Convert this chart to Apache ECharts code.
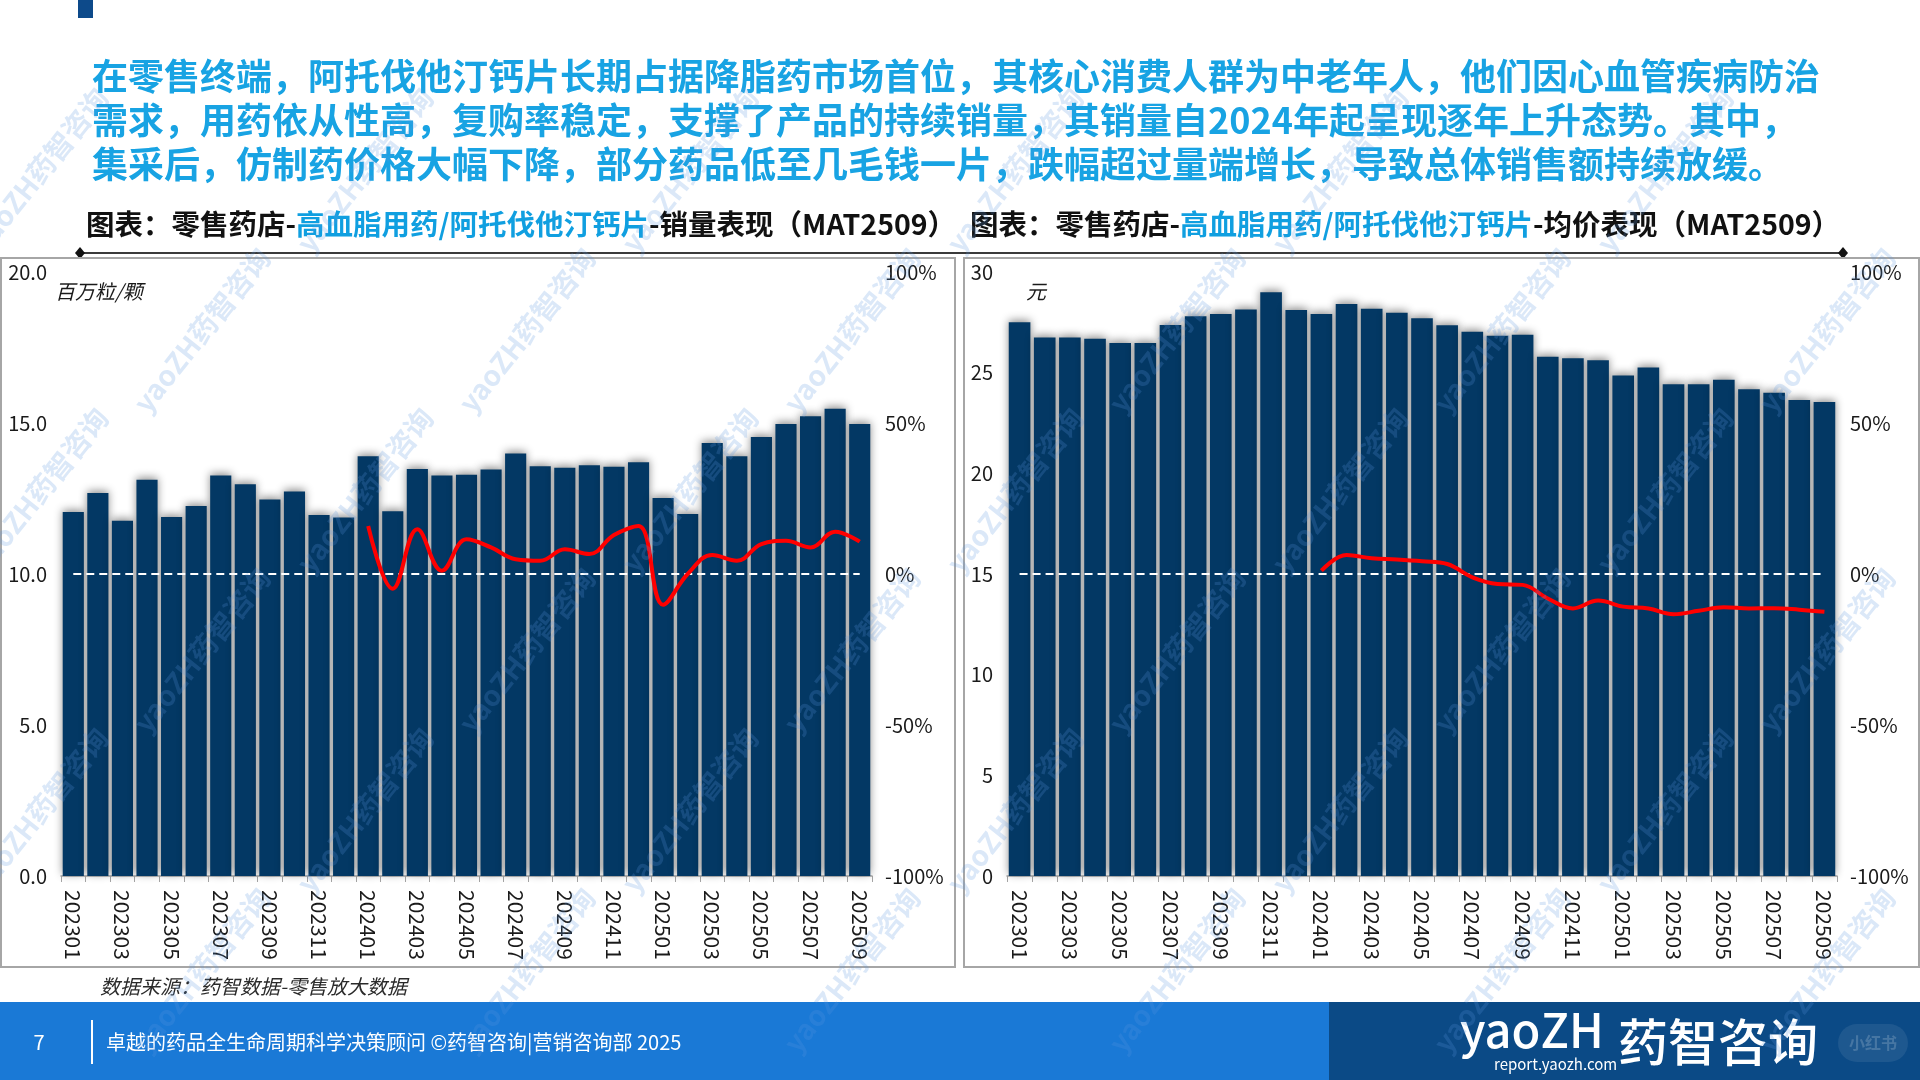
<!DOCTYPE html>
<html>
<head>
<meta charset="utf-8">
<script src="https://cdn.jsdelivr.net/npm/echarts@6/dist/echarts.min.js"></script>
<style>
html,body{margin:0;padding:0;background:#fff;}
#main{width:1920px;height:1080px;}
</style>
</head>
<body>
<div id="main"></div>
<script>
// ---- data ----
const categories = ['202301','202302','202303','202304','202305','202306','202307','202308','202309','202310','202311','202312',
  '202401','202402','202403','202404','202405','202406','202407','202408','202409','202410','202411','202412',
  '202501','202502','202503','202504','202505','202506','202507','202508','202509'];
// 销量（百万粒/颗）
const volume = [12.05,12.68,11.76,13.12,11.89,12.25,13.26,12.97,12.47,12.73,11.95,11.87,
  13.90,12.08,13.48,13.26,13.29,13.46,13.99,13.57,13.52,13.60,13.55,13.70,
  12.52,11.99,14.34,13.90,14.54,14.97,15.22,15.47,14.97];
// 销量同比增长率（%）
const volumeGrowth = [null,null,null,null,null,null,null,null,null,null,null,null,
  15.9,-4.9,14.8,1.1,11.5,8.8,4.9,4.4,8.2,6.6,12.9,15.9,
  -10.2,0.0,6.3,4.4,9.9,11.0,8.8,14.0,10.7];
// 均价（元）
const price = [27.51,26.75,26.75,26.69,26.47,26.47,27.37,27.80,27.91,28.14,28.99,28.11,
  27.91,28.41,28.18,27.98,27.70,27.35,27.03,26.83,26.88,25.79,25.72,25.62,
  24.86,25.26,24.43,24.43,24.65,24.18,24.00,23.64,23.54];
// 均价同比增长率（%）
const priceGrowth = [null,null,null,null,null,null,null,null,null,null,null,null,
  1.1,6.3,5.2,4.8,4.2,3.3,-1.1,-3.3,-3.6,-8.1,-11.4,-8.8,
  -10.8,-11.4,-13.3,-12.2,-11.0,-11.4,-11.3,-11.8,-12.5];
const volumeTicks = {min:0, max:20, interval:5};
const priceTicks = {min:0, max:30, interval:5};
const growthTicks = {min:-100, max:100, interval:50};

const titleText = '在零售终端，阿托伐他汀钙片长期占据降脂药市场首位，其核心消费人群为中老年人，他们因心血管疾病防治\n需求，用药依从性高，复购率稳定，支撑了产品的持续销量，其销量自2024年起呈现逐年上升态势。其中，\n集采后，仿制药价格大幅下降，部分药品低至几毛钱一片，跌幅超过量端增长，导致总体销售额持续放缓。';

// ---- chart ----
const FONT = '"Noto Sans CJK SC","Noto Sans",sans-serif';
const chart = echarts.init(document.getElementById('main'), null, {renderer:'canvas'});

function xAxisCfg(gi){
  return {
    type:'category', gridIndex:gi, data:categories,
    axisLine:{lineStyle:{color:'#a6a6a6', width:1.5}},
    axisTick:{show:true, interval:0, length:6, lineStyle:{color:'#a6a6a6'}},
    axisLabel:{interval:1, rotate:-90, fontSize:21, color:'#1a1a1a', margin:14, fontFamily:FONT}
  };
}
function leftAxis(gi, t, dec){
  return {
    type:'value', gridIndex:gi, min:t.min, max:t.max, interval:t.interval, position:'left',
    splitLine:{show:false}, axisLine:{show:false}, axisTick:{show:false},
    axisLabel:{fontSize:20, color:'#1a1a1a', margin:14, fontFamily:FONT,
      formatter: v => dec ? v.toFixed(1) : String(v)}
  };
}
function rightAxis(gi){
  return {
    type:'value', gridIndex:gi, min:growthTicks.min, max:growthTicks.max, interval:growthTicks.interval, position:'right',
    splitLine:{show:false}, axisLine:{show:false}, axisTick:{show:false},
    axisLabel:{fontSize:20, color:'#1a1a1a', margin:13, fontFamily:FONT, formatter: v => v + '%'}
  };
}
const barStyle = {color:'#033864', shadowBlur:8, shadowColor:'rgba(0,0,0,0.45)', shadowOffsetY:-2};
function zeroLine(){
  return {silent:true, symbol:'none', label:{show:false},
    lineStyle:{color:'#ffffff', type:[8,5], width:2},
    data:[[{coord:[categories[0],0]},{coord:[categories[categories.length-1],0]}]]};
}

// watermark positions (decoration)
const wm = [];
for (let r = 0; r < 7; r++) {
  for (let c = 0; c < 7; c++) {
    const x = 40 + c * 325 + (r % 2) * 162;
    const y = 330 + r * 160 - 160;
    if (x > 1900 || y > 1000) continue;
    wm.push({type:'text', x:x, y:y, rotation:0.9, z:100, silent:true,
      style:{text:'yaoZH药智咨询', font:'bold 28px ' + FONT, fill:'rgba(90,150,225,0.22)', textAlign:'center', textVerticalAlign:'middle'}});
  }
}

const option = {
  backgroundColor:'#ffffff',
  animation:false,
  grid:[
    {left:61, top:272, width:811, height:604},
    {left:1007, top:272, width:830, height:604}
  ],
  xAxis:[xAxisCfg(0), xAxisCfg(1)],
  yAxis:[leftAxis(0, volumeTicks, true), rightAxis(0), leftAxis(1, priceTicks, false), rightAxis(1)],
  series:[
    {type:'bar', xAxisIndex:0, yAxisIndex:0, data:volume, barCategoryGap:'14%', itemStyle:barStyle, z:2},
    {type:'line', xAxisIndex:0, yAxisIndex:1, data:volumeGrowth, smooth:0.4, symbol:'none', z:5,
      lineStyle:{color:'#ff0000', width:4}, markLine:zeroLine()},
    {type:'bar', xAxisIndex:1, yAxisIndex:2, data:price, barCategoryGap:'14%', itemStyle:barStyle, z:2},
    {type:'line', xAxisIndex:1, yAxisIndex:3, data:priceGrowth, smooth:0.4, symbol:'none', z:5,
      lineStyle:{color:'#ff0000', width:4}, markLine:zeroLine()}
  ],
  graphic:[
    {type:'rect', shape:{x:78, y:0, width:15, height:18}, style:{fill:'#0d4a8a'}},
    {type:'text', x:92, y:54, style:{text:titleText, font:'bold 36px ' + FONT, fill:'#18a3e3', lineHeight:44}},
    {type:'text', x:86, y:224, style:{
      text:'{a|图表：零售药店-}{b|高血脂用药/阿托伐他汀钙片}{a|-销量表现（MAT2509）}',
      textVerticalAlign:'middle',
      rich:{a:{font:'bold 28.5px ' + FONT, fill:'#111'}, b:{font:'bold 28.5px ' + FONT, fill:'#109fe0'}}}},
    {type:'text', x:970, y:224, style:{
      text:'{a|图表：零售药店-}{b|高血脂用药/阿托伐他汀钙片}{a|-均价表现（MAT2509）}',
      textVerticalAlign:'middle',
      rich:{a:{font:'bold 28.5px ' + FONT, fill:'#111'}, b:{font:'bold 28.5px ' + FONT, fill:'#109fe0'}}}},
    {type:'line', shape:{x1:80, y1:253, x2:1843, y2:253}, style:{stroke:'#3a3a3a', lineWidth:2}},
    {type:'polygon', shape:{points:[[80,247],[85,253],[80,259],[75,253]]}, style:{fill:'#111'}},
    {type:'polygon', shape:{points:[[1843,247],[1848,253],[1843,259],[1838,253]]}, style:{fill:'#111'}},
    {type:'rect', shape:{x:1, y:258, width:954, height:709}, style:{fill:'none', stroke:'#a6a6a6', lineWidth:2}},
    {type:'rect', shape:{x:964, y:258, width:955, height:709}, style:{fill:'none', stroke:'#a6a6a6', lineWidth:2}},
    {type:'text', x:55, y:291, style:{text:'百万粒/颗', font:'italic 20px ' + FONT, fill:'#1a1a1a', textVerticalAlign:'middle'}},
    {type:'text', x:1026, y:291, style:{text:'元', font:'italic 20px ' + FONT, fill:'#1a1a1a', textVerticalAlign:'middle'}},
    {type:'text', x:100, y:986, style:{text:'数据来源：药智数据-零售放大数据', font:'italic 20px ' + FONT, fill:'#2a2a2a', textVerticalAlign:'middle'}},
    {type:'rect', shape:{x:0, y:1002, width:1329, height:78}, style:{fill:'#1a79d6'}},
    {type:'rect', shape:{x:1329, y:1002, width:591, height:78}, style:{fill:'#0b4a86'}},
    {type:'text', x:39, y:1042, style:{text:'7', font:'20px ' + FONT, fill:'#ffffff', textAlign:'center', textVerticalAlign:'middle'}},
    {type:'line', shape:{x1:92, y1:1020, x2:92, y2:1064}, style:{stroke:'#ffffff', lineWidth:2}},
    {type:'text', x:106, y:1042, style:{text:'卓越的药品全生命周期科学决策顾问 ©药智咨询|营销咨询部 2025', font:'20px ' + FONT, fill:'#ffffff', textVerticalAlign:'middle'}},
    {type:'text', x:1460, y:1030, style:{text:'yaoZH', font:'500 47px ' + FONT, fill:'#ffffff', textVerticalAlign:'middle'}},
    {type:'text', x:1494, y:1064, style:{text:'report.yaozh.com', font:'15px ' + FONT, fill:'#ffffff', textVerticalAlign:'middle'}},
    {type:'text', x:1618, y:1042, style:{text:'药智咨询', font:'500 50px ' + FONT, fill:'#ffffff', textVerticalAlign:'middle'}},
    {type:'rect', shape:{x:1838, y:1024, width:70, height:38, r:19}, style:{fill:'rgba(255,255,255,0.08)'}},
    {type:'text', x:1873, y:1043, style:{text:'小红书', font:'bold 16px ' + FONT, fill:'rgba(255,255,255,0.18)', textAlign:'center', textVerticalAlign:'middle'}}
  ].concat(wm)
};
chart.setOption(option);
</script>
</body>
</html>
